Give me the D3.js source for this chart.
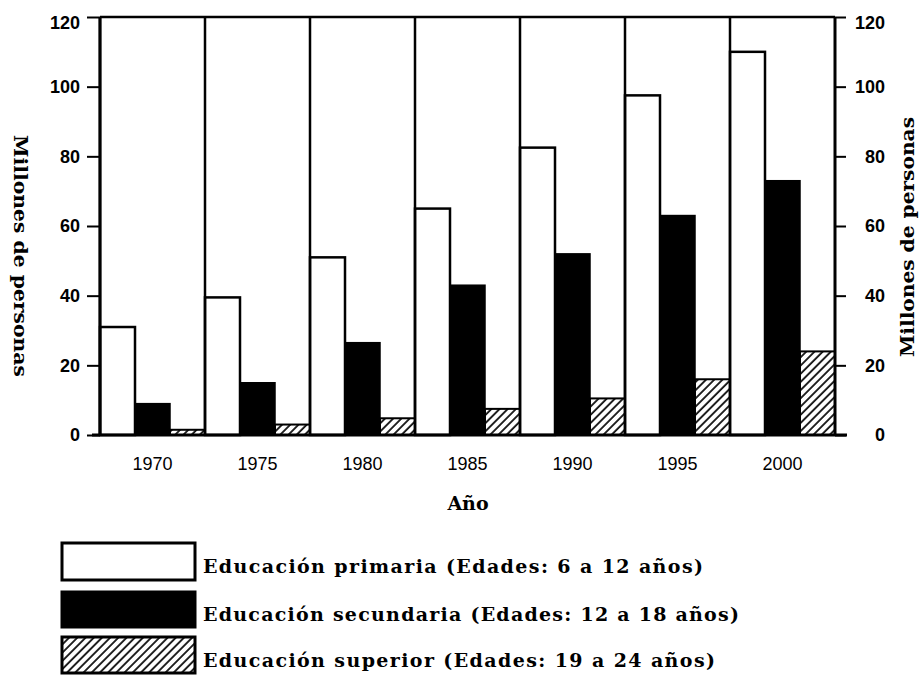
<!DOCTYPE html>
<html><head><meta charset="utf-8">
<script src="https://cdn.jsdelivr.net/npm/d3@7"></script>
<style>body{margin:0;background:#fff}svg{display:block}</style>
</head><body>
<script>
const years = ["1970","1975","1980","1985","1990","1995","2000"];
const primaria = [31, 39.5, 51, 65, 82.5, 97.5, 110];
const secundaria = [9, 15, 26.5, 43, 52, 63, 73];
const superior = [1.5, 3, 4.8, 7.5, 10.5, 16, 24];
const seriesKeys = ["primaria","secundaria","superior"];
const yTicks = [0,20,40,60,80,100,120];
const legendLabels = [
  "Educación primaria (Edades: 6 a 12 años)",
  "Educación secundaria (Edades: 12 a 18 años)",
  "Educación superior (Edades: 19 a 24 años)"
];
const yTitle = "Millones de personas";
const xTitle = "Año";

const W = 922, H = 676;
const L = 100, R = 835, T = 17, B = 435;
const svg = d3.select("body").append("svg").attr("width", W).attr("height", H);

const defs = svg.append("defs");
defs.append("pattern").attr("id","hatch").attr("patternUnits","userSpaceOnUse")
  .attr("width",5.8).attr("height",10).attr("patternTransform","rotate(45)")
  .append("line").attr("x1",1).attr("x2",1).attr("y1",0).attr("y2",10)
  .attr("stroke","#000").attr("stroke-width",1.7);

const x = d3.scaleBand().domain(years).range([L, R]).padding(0);
const xi = d3.scaleBand().domain(seriesKeys).range([0, x.bandwidth()]).padding(0);
const y = d3.scaleLinear().domain([0,120]).range([B, T]);

const data = years.map((yr,i)=>({year:yr, primaria:primaria[i], secundaria:secundaria[i], superior:superior[i]}));

const g = svg.append("g");
const grp = g.selectAll("g.grp").data(data).join("g").attr("class","grp")
  .attr("transform", d=>`translate(${x(d.year)},0)`);

grp.append("rect").attr("x", xi("primaria")).attr("width", xi.bandwidth())
  .attr("y", d=>y(d.primaria)).attr("height", d=>B - y(d.primaria))
  .attr("fill","#fff").attr("stroke","#000").attr("stroke-width",2.5);
grp.append("rect").attr("x", xi("secundaria")).attr("width", xi.bandwidth())
  .attr("y", d=>y(d.secundaria)).attr("height", d=>B - y(d.secundaria))
  .attr("fill","#000").attr("stroke","#000").attr("stroke-width",1.5);
grp.append("rect").attr("x", xi("superior")).attr("width", xi.bandwidth())
  .attr("y", d=>y(d.superior)).attr("height", d=>B - y(d.superior))
  .attr("fill","url(#hatch)").attr("stroke","#000").attr("stroke-width",2);

// group separators
g.selectAll("line.sep").data(years).join("line").attr("class","sep")
  .attr("x1", d=>x(d)).attr("x2", d=>x(d)).attr("y1", T).attr("y2", B)
  .attr("stroke","#000").attr("stroke-width",2.5);

// frame
g.append("line").attr("x1",L).attr("x2",R).attr("y1",T).attr("y2",T).attr("stroke","#000").attr("stroke-width",2.5);
g.append("line").attr("x1",L).attr("x2",L).attr("y1",T).attr("y2",B).attr("stroke","#000").attr("stroke-width",3);
g.append("line").attr("x1",R).attr("x2",R).attr("y1",T).attr("y2",B).attr("stroke","#000").attr("stroke-width",3);
g.append("line").attr("x1",L-8).attr("x2",R+12).attr("y1",B).attr("y2",B).attr("stroke","#000").attr("stroke-width",3);

// axes
const tickFont = "'Liberation Sans', Arial, sans-serif";
const ax1 = svg.append("g").attr("transform",`translate(${L},0)`)
  .call(d3.axisLeft(y).tickValues(yTicks).tickSize(13).tickPadding(7).tickFormat(d3.format("d")));
const ax2 = svg.append("g").attr("transform",`translate(${R},0)`)
  .call(d3.axisRight(y).tickValues(yTicks).tickSize(11).tickPadding(6).tickFormat(d3.format("d")));
[ax1, ax2].forEach(a=>{
  a.select(".domain").remove();
  a.selectAll(".tick line").attr("stroke","#000").attr("stroke-width",2);
  a.selectAll(".tick text").attr("fill","#000").style("font-family",tickFont)
    .style("font-size","18px").style("font-weight","bold");
  a.selectAll(".tick text").filter(d=>d===120).attr("dy","0.65em");
});
ax2.selectAll(".tick text").attr("text-anchor","end").attr("x",50);

const ax3 = svg.append("g").attr("transform",`translate(0,${B})`)
  .call(d3.axisBottom(x).tickSize(0).tickPadding(22));
ax3.select(".domain").remove();
ax3.selectAll(".tick text").attr("fill","#000").style("font-family",tickFont)
  .style("font-size","18px");

// titles
const serif = "'DejaVu Serif', 'Liberation Serif', serif";
svg.append("text").attr("transform","translate(14,256) rotate(90)")
  .attr("text-anchor","middle").attr("textLength",242).attr("lengthAdjust","spacingAndGlyphs")
  .style("font-family",serif).style("font-size","19px").style("font-weight","bold").text(yTitle);
svg.append("text").attr("transform","translate(914,237) rotate(-90)")
  .attr("text-anchor","middle").attr("textLength",240).attr("lengthAdjust","spacingAndGlyphs")
  .style("font-family",serif).style("font-size","19px").style("font-weight","bold").text(yTitle);
svg.append("text").attr("x",468).attr("y",510).attr("text-anchor","middle")
  .style("font-family",serif).style("font-size","19px").style("font-weight","bold").text(xTitle);

// legend
const lg = svg.append("g");
const legFills = ["#fff","#000","url(#hatch)"];
const boxY = [543, 592, 637];
const boxH = [37, 35, 36];
const textY = [573, 621, 667];
const textLen = [500, 536, 512];
lg.selectAll("rect").data(legendLabels).join("rect")
  .attr("x",62).attr("width",133).attr("y",(d,i)=>boxY[i]).attr("height",(d,i)=>boxH[i])
  .attr("fill",(d,i)=>legFills[i]).attr("stroke","#000").attr("stroke-width",3);
lg.selectAll("text").data(legendLabels).join("text")
  .attr("x",203).attr("y",(d,i)=>textY[i]).attr("textLength",(d,i)=>textLen[i]).attr("lengthAdjust","spacing")
  .style("font-family",serif).style("font-size","19px").style("font-weight","bold").text(d=>d);
</script>
</body></html>
